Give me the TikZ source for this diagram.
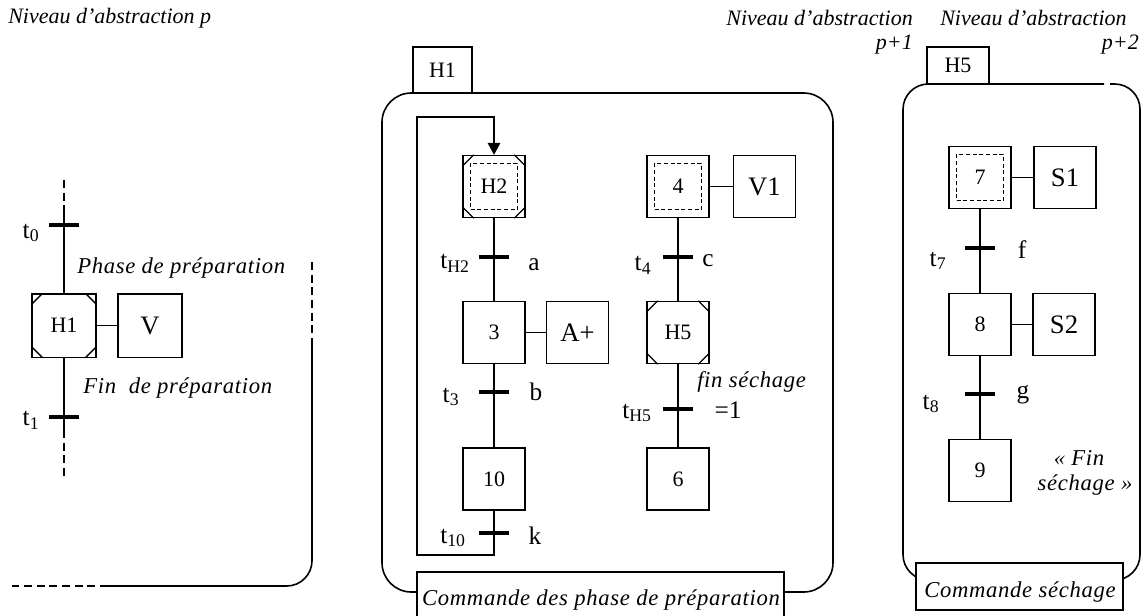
\documentclass[tikz,border=0pt]{standalone}
\usepackage{fontspec}
\setmainfont{Liberation Serif}
\newfontfamily\headfont{Liberation Serif}
\newfontfamily\notefont[LetterSpace=3]{Liberation Serif}
\usetikzlibrary{arrows.meta}

% cut corners marking a macro-step
\newcommand\macrocorners[1]{%
  \draw[line width=1pt]
    ([xshift=8.5pt]#1.north west) -- ([yshift=-8.5pt]#1.north west)
    ([xshift=-8.5pt]#1.north east) -- ([yshift=-8.5pt]#1.north east)
    ([xshift=8.5pt]#1.south west) -- ([yshift=8.5pt]#1.south west)
    ([xshift=-8.5pt]#1.south east) -- ([yshift=8.5pt]#1.south east);}

\begin{document}
\begin{tikzpicture}[x=0.75pt,y=-0.75pt,
  stepbox/.style={draw, line width=1pt, minimum width=46.5pt, minimum height=46.5pt,
    inner sep=0pt, font=\fontsize{16.5}{16.5}\selectfont},
  actbox/.style={stepbox, font=\fontsize{20}{20}\selectfont},
  innerbox/.style={draw, dashed, dash pattern=on 3pt off 2pt, line width=0.8pt,
    minimum width=35pt, minimum height=35pt, inner sep=0pt},
  trans/.style={fill=black, minimum width=23pt, minimum height=2.8pt, inner sep=0pt},
  link/.style={line width=0.9pt},
  frame/.style={line width=1.2pt},
  framedash/.style={frame, dash pattern=on 6pt off 3.5pt},
  linkdash/.style={link, dash pattern=on 6pt off 3.5pt},
  lbl/.style={font=\fontsize{19}{19}\selectfont, inner sep=0pt},
  note/.style={font=\notefont\itshape\fontsize{17}{17}\selectfont, inner sep=0pt},
  head/.style={font=\headfont\itshape\fontsize{16.5}{16.5}\selectfont, inner sep=0pt},
  tab/.style={draw, line width=1pt, inner sep=0pt, font=\fontsize{16.5}{16.5}\selectfont},
]
\useasboundingbox (0,0) rectangle (1141,615);

% ---------- headings ----------
\node[head, anchor=west] (hd0) at (8,18) {Niveau d’abstraction p};
\node[head, anchor=east] (hd1) at (913,18) {Niveau d’abstraction};
\node[head, anchor=east] (hd1p) at (913,45) {p+1};
\node[head, anchor=west] (hd2) at (940,18) {Niveau d’abstraction};
\node[head, anchor=east] (hd2p) at (1139,45) {p+2};

% ---------- level p ----------
\draw[framedash] (312,262) -- (312,340);
\draw[frame, rounded corners=19pt] (312,340) -- (312,586) -- (108,586);
\draw[framedash] (108,586) -- (12,586);

\node[stepbox, minimum width=48pt, minimum height=47.5pt] (H1) at (64,325.5) {H1};
\macrocorners{H1}
\node[actbox, minimum width=48pt, minimum height=47.5pt] (V) at (150,325.5) {V};
\node[trans] (t0) at (64,225) {};
\node[trans] (t1) at (64,417) {};
\coordinate (c0a) at (64,180);
\coordinate (c0b) at (64,205);
\coordinate (c1a) at (64,430);
\coordinate (c1b) at (64,478);
\draw[linkdash] (c0a) -- (c0b);
\draw[link] (c0b) -- (t0);
\draw[link] (t0) -- (H1);
\draw[link] (H1) -- (t1);
\draw[link] (t1) -- (c1a);
\draw[linkdash] (c1a) -- (c1b);
\draw[link] (H1) -- (V);
\node[lbl] (lt0) at (31,233) {t\textsubscript{0}};
\node[lbl] (lt1) at (31,420) {t\textsubscript{1}};
\node[note, anchor=west] (ph) at (77,268) {Phase de préparation};
\node[note, anchor=west] (fp) at (83,388) {Fin\ \ de préparation};

% ---------- level p+1 ----------
\draw[frame, rounded corners=22pt] (382,93) rectangle (833,592);
\node[tab, minimum width=44.25pt, minimum height=34.5pt] (tabH1) at (442.5,70) {H1};
\node[draw, fill=white, line width=1pt, minimum width=275.25pt, minimum height=34.5pt,
  inner sep=0pt] (cmdbox1) at (600.5,595) {};
\node[note] (cmd1) at (601,600) {Commande des phase de préparation};

\node[stepbox] (H2) at (494,186.5) {H2};
\node[innerbox] (H2in) at (H2.center) {};
\macrocorners{H2}
\node[trans] (tH2) at (494,257) {};
\node[stepbox] (s3) at (494,332.5) {3};
\node[actbox] (Ap) at (577.5,332.5) {A+};
\node[trans] (t3) at (494,392) {};
\node[stepbox] (s10) at (494,479) {10};
\node[trans] (t10) at (494,533) {};

\node[stepbox] (s4) at (678,186.5) {4};
\node[innerbox] (s4in) at (s4.center) {};
\node[actbox] (V1) at (764.5,186.5) {V1};
\node[trans] (t4) at (678,257) {};
\node[stepbox] (H5) at (678,332.5) {H5};
\macrocorners{H5}
\node[trans] (tH5) at (678,409) {};
\node[stepbox] (s6) at (678,479) {6};

\coordinate (lp1) at (494,555);
\coordinate (lp2) at (417,555);
\coordinate (lp3) at (417,117);
\coordinate (lp4) at (494,117);

\draw[link] (H2) -- (tH2);
\draw[link] (tH2) -- (s3);
\draw[link] (s3) -- (t3);
\draw[link] (t3) -- (s10);
\draw[link] (s10) -- (t10);
\draw[link, -{Triangle[length=9pt,width=9.5pt]}] (t10) -- (lp1) -- (lp2) -- (lp3) -- (lp4) -- (H2);
\draw[link] (s3) -- (Ap);
\draw[link] (s4) -- (t4);
\draw[link] (t4) -- (H5);
\draw[link] (H5) -- (tH5);
\draw[link] (tH5) -- (s6);
\draw[link] (s4) -- (V1);

\node[lbl] (ltH2) at (455,263) {t\textsubscript{H2}};
\node[lbl] (la) at (534,265) {a};
\node[lbl] (lt3) at (451,397) {t\textsubscript{3}};
\node[lbl] (lb) at (536,392) {b};
\node[lbl] (lt10) at (453,538) {t\textsubscript{10}};
\node[lbl] (lk) at (535,536) {k};
\node[lbl] (lt4) at (643,265) {t\textsubscript{4}};
\node[lbl] (lc) at (708,261) {c};
\node[lbl] (ltH5) at (637,413) {t\textsubscript{H5}};
\node[lbl] (l1) at (728,410) {=1};
\node[note, anchor=west] (fs) at (697,382) {fin séchage};

% ---------- level p+2 ----------
\draw[frame, rounded corners=19pt] (1110,84) -- (1140,84) -- (1140,580) -- (903,580) -- (903,84) -- (1104,84);
\node[tab, minimum width=46.5pt, minimum height=27.75pt] (tabH5) at (958,65.5) {H5};
\node[draw, fill=white, line width=1pt, minimum width=155.25pt, minimum height=35.25pt,
  inner sep=0pt] (cmdbox2) at (1019.5,586.5) {};
\node[note] (cmd2) at (1020,592) {Commande séchage};

\node[stepbox] (s7) at (980,177.5) {7};
\node[innerbox] (s7in) at (s7.center) {};
\node[actbox] (S1) at (1065,177.5) {S1};
\node[trans] (t7) at (980,248) {};
\node[stepbox] (s8) at (980,324.5) {8};
\node[actbox] (S2) at (1064,324.5) {S2};
\node[trans] (t8) at (980,394) {};
\node[stepbox] (s9) at (980,470.5) {9};

\draw[link] (s7) -- (t7);
\draw[link] (t7) -- (s8);
\draw[link] (s8) -- (t8);
\draw[link] (t8) -- (s9);
\draw[link] (s7) -- (S1);
\draw[link] (s8) -- (S2);

\node[lbl] (lt7) at (938,261) {t\textsubscript{7}};
\node[lbl] (lf) at (1022,250) {f};
\node[lbl] (lt8) at (931,404) {t\textsubscript{8}};
\node[lbl] (lg) at (1023,395) {g};
\node[note] (ef1) at (1079,458) {«~Fin};
\node[note] (ef2) at (1085,485) {séchage~»};
\end{tikzpicture}
\end{document}
